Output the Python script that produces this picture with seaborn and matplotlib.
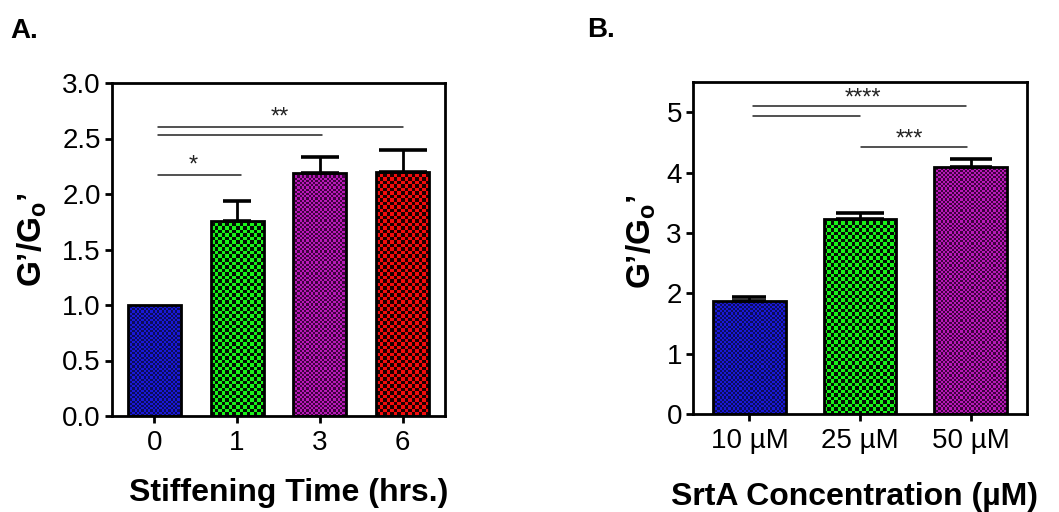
import numpy as np
import pandas as pd
import matplotlib
matplotlib.use("Agg")
import matplotlib.pyplot as plt
import seaborn as sns
from matplotlib.colors import to_rgba

# ---------------- data ----------------
a_labels = ["0", "1", "3", "6"]
a_values = [1.00, 1.76, 2.19, 2.20]
a_errors = [0.00, 0.18, 0.14, 0.20]

b_labels = ["10 \u00b5M", "25 \u00b5M", "50 \u00b5M"]
b_values = [1.88, 3.23, 4.09]
b_errors = [0.05, 0.10, 0.13]

# significance brackets: (x_start, x_end, y)
a_sig_lines = [(0.04, 1.05, 2.17), (0.04, 2.02, 2.53), (0.04, 3.0, 2.60)]
a_sig_text = [(0.47, 2.26, "*"), (1.52, 2.69, "**")]
b_sig_lines = [(0.03, 1.96, 5.11), (0.03, 1.0, 4.94), (1.01, 1.97, 4.42)]
b_sig_text = [(1.03, 5.22, "****"), (1.45, 4.55, "***")]

# ---------------- style ----------------
sns.set_theme(style="ticks")
plt.rcParams["font.family"] = ["Liberation Sans", "DejaVu Sans"]
plt.rcParams["mathtext.fontset"] = "custom"
plt.rcParams["mathtext.rm"] = "Liberation Sans:bold"
plt.rcParams["mathtext.bf"] = "Liberation Sans:bold"
plt.rcParams["mathtext.default"] = "regular"
plt.rcParams["text.color"] = "black"
plt.rcParams["axes.labelcolor"] = "black"
plt.rcParams["xtick.color"] = "black"
plt.rcParams["ytick.color"] = "black"
plt.rcParams["axes.edgecolor"] = "black"

# checker styles per bar: (light, dark, cell size in px)
a_checker = [((0.10, 0.10, 0.85), (0.05, 0.05, 0.35), 2.2),
             ((0.10, 0.95, 0.10), (0.02, 0.05, 0.02), 3.5),
             ((0.72, 0.10, 0.72), (0.25, 0.00, 0.25), 2.2),
             ((0.95, 0.05, 0.05), (0.12, 0.00, 0.00), 3.5)]
b_checker = [a_checker[0], a_checker[1], a_checker[2]]

W, H = 1059, 512
fig = plt.figure(figsize=(W / 100, H / 100), dpi=100)


def px_axes(left, top, right, bottom):
    return fig.add_axes([left / W, 1 - bottom / H, (right - left) / W, (bottom - top) / H])


ax_a = px_axes(112, 83, 445, 416)
ax_b = px_axes(693, 82, 1027, 414)


def checker_fill(ax, patch, light, dark, cell):
    bb = patch.get_window_extent()
    nx = int(np.ceil(bb.width / cell)) + 1
    ny = int(np.ceil(bb.height / cell)) + 1
    ii, jj = np.indices((ny, nx))
    mask = ((ii + jj) % 2).astype(bool)
    img = np.where(mask[..., None], np.array(to_rgba(light)), np.array(to_rgba(dark)))
    inv = ax.transData.inverted()
    x0, y0 = inv.transform((bb.x0, bb.y0))
    x1, y1 = inv.transform((bb.x0 + nx * cell, bb.y0 + ny * cell))
    im = ax.imshow(img, extent=(x0, x1, y0, y1), origin="lower",
                   interpolation="nearest", aspect="auto", zorder=1)
    im.set_clip_path(patch)
    patch.set_facecolor("none")
    patch.set_zorder(2)


def panel(ax, labels, values, errors, checkers, width, caps, ylim, yticks, fmt):
    df = pd.DataFrame({"cat": labels, "val": values})
    sns.barplot(data=df, x="cat", y="val", hue="cat", order=labels, hue_order=labels,
                palette=[c[0] for c in checkers], legend=False, width=width,
                edgecolor="black", linewidth=2.0, ax=ax, errorbar=None)
    n = len(labels)
    ax.set_xlim(-0.51, n - 0.49)
    ax.set_ylim(*ylim)
    for i, (p, c) in enumerate(zip(ax.patches, checkers)):
        checker_fill(ax, p, *c)
    for i in range(n):
        if errors[i] > 0:
            ax.errorbar(i, values[i], yerr=[[0], [errors[i]]], fmt="none", ecolor="black",
                        elinewidth=2.0, capsize=caps[i], capthick=2.6, zorder=3)
    ax.set_xlim(-0.51, n - 0.49)
    ax.set_ylim(*ylim)
    ax.set_yticks(yticks)
    ax.set_yticklabels([fmt.format(t) for t in yticks])
    for s in ax.spines.values():
        s.set_linewidth(2.0)
        s.set_color("black")
        s.set_visible(True)
    ax.tick_params(axis="both", width=2.0, length=5, labelsize=20, colors="black", pad=3)
    ax.tick_params(axis="x", pad=5)


panel(ax_a, a_labels, a_values, a_errors, a_checker, 0.64, [0, 10, 14, 17],
      (0, 3.0), [0, 0.5, 1.0, 1.5, 2.0, 2.5, 3.0], "{:.1f}")
panel(ax_b, b_labels, b_values, b_errors, b_checker, 0.66, [12, 17, 15],
      (0, 5.5), [0, 1, 2, 3, 4, 5], "{:.0f}")

ylab = "G\u2019/G$_{o}$\u2019"
for ax in (ax_a, ax_b):
    ax.set_ylabel(ylab, fontsize=24, fontweight="bold", color="black")
ax_a.set_xlabel("Stiffening Time (hrs.)", fontsize=23, fontweight="bold", color="black")
ax_b.set_xlabel("SrtA Concentration (\u00b5M)", fontsize=23, fontweight="bold", color="black")
ax_a.yaxis.set_label_coords(-0.19, 0.53)
ax_b.yaxis.set_label_coords(-0.105, 0.52)
ax_a.xaxis.set_label_coords(0.53, -0.185)
ax_b.xaxis.set_label_coords(0.484, -0.205)

for ax, lines, texts in ((ax_a, a_sig_lines, a_sig_text), (ax_b, b_sig_lines, b_sig_text)):
    for x0, x1, y in lines:
        ax.plot([x0, x1], [y, y], color="#222222", lw=1.1, zorder=3)
    for x, y, t in texts:
        ax.text(x, y, t, ha="center", va="center", fontsize=17, color="#222222")

fig.text(10 / W, 1 - 38 / H, "A.", fontsize=20, fontweight="bold", va="baseline", ha="left",
         color="black")
fig.text(587 / W, 1 - 37 / H, "B.", fontsize=20, fontweight="bold", va="baseline", ha="left",
         color="black")

fig.savefig("out.png", dpi=100)
